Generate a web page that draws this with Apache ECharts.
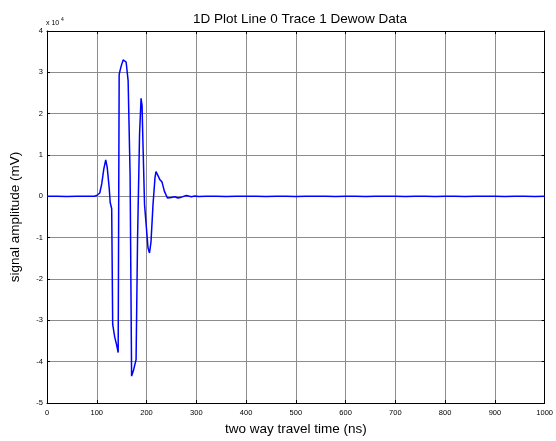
<!DOCTYPE html>
<html><head><meta charset="utf-8">
<script src="https://cdn.jsdelivr.net/npm/echarts@6/dist/echarts.min.js"></script>
<style>html,body{margin:0;padding:0;background:#fff}#c{width:556px;height:441px}</style>
</head><body><div id="c"></div>
<script>
var titleText = '1D Plot Line 0 Trace 1 Dewow Data';
var xName = 'two way travel time (ns)';
var yName = 'signal amplitude (mV)';
var xTicks = [0,100,200,300,400,500,600,700,800,900,1000];
var yTicks = [-5,-4,-3,-2,-1,0,1,2,3,4];
// travel time (ns)
var times = [0,20,40,60,80,95,100,106,110,114,118,121,125,127,130,132,136,140,143,145,149,153,156,159,163,167,170,174,179,182,186,189,191,193,196,200,203,206,209,213,217,219,223,227,231,236,242,250,257,263,270,280,290,297,305,320,340,360,380,400,420,440,460,480,500,520,540,560,580,600,620,640,660,680,700,720,740,760,780,800,820,840,860,880,900,920,940,960,980,1000];
// amplitude (x 10^4 mV)
var amps = [0.00,0.005,-0.005,0.00,0.005,0.00,0.02,0.08,0.30,0.65,0.88,0.70,0.20,-0.15,-0.30,-3.10,-3.40,-3.60,-3.78,2.95,3.15,3.30,3.33,3.25,2.80,0.50,-4.35,-4.20,-3.95,-1.00,1.50,2.37,2.20,1.20,-0.20,-0.80,-1.25,-1.37,-1.10,-0.20,0.45,0.60,0.50,0.40,0.35,0.12,-0.04,-0.03,-0.01,-0.04,-0.02,0.02,-0.01,0.01,-0.005,0.005,0.00,-0.005,0.005,0.00,0.005,-0.005,0.00,0.005,-0.005,0.00,0.005,0.00,-0.005,0.005,0.00,-0.005,0.00,0.005,0.00,-0.005,0.005,0.00,-0.005,0.00,0.005,-0.005,0.00,0.005,0.00,-0.005,0.005,0.00,-0.005,0.00];

var font = 'Liberation Sans, Arial, sans-serif';
var chart = echarts.init(document.getElementById('c'), null, {renderer:'canvas'});
var data = times.map(function(t,i){return [t, amps[i]];});
var gridL=45, gridR=11, gridT=31, gridB=32;
chart.setOption({
  animation:false,
  backgroundColor:'#fff',
  title:{text:titleText,left:295,textAlign:'center',top:7,textStyle:{fontFamily:font,fontSize:13.5,fontWeight:'normal',color:'#000'}},
  grid:{left:gridL,right:gridR,top:gridT,bottom:gridB,show:false},
  graphic:[
    {type:'text',x:46,y:20,style:{text:'x 10',font:'7px '+font,fill:'#000'}},
    {type:'text',x:61,y:17,style:{text:'4',font:'5px '+font,fill:'#000'}}
  ],
  xAxis:[
    {type:'value',min:0,max:1000,interval:100,position:'bottom',
     name:xName,nameLocation:'middle',nameGap:19,nameTextStyle:{fontFamily:font,fontSize:13.5,color:'#000'},
     axisLine:{show:true,onZero:false,lineStyle:{color:'#000',width:1}},
     axisTick:{show:true,inside:true,length:3,lineStyle:{color:'#000'}},
     axisLabel:{fontFamily:font,fontSize:7.5,color:'#000',margin:6,formatter:function(v){return xTicks.indexOf(v)>=0?String(v):'';}},
     splitLine:{show:true,lineStyle:{color:'#8c8c8c',width:1}}},
    {type:'value',min:0,max:1000,interval:100,position:'top',
     axisLine:{show:true,onZero:false,lineStyle:{color:'#000',width:1}},
     axisTick:{show:true,inside:true,length:3,lineStyle:{color:'#000'}},
     axisLabel:{show:false},splitLine:{show:false}}
  ],
  yAxis:[
    {type:'value',min:-5,max:4,interval:1,position:'left',
     name:yName,nameLocation:'middle',nameGap:25,nameTextStyle:{fontFamily:font,fontSize:13.5,color:'#000'},
     axisLine:{show:true,onZero:false,lineStyle:{color:'#000',width:1}},
     axisTick:{show:true,inside:true,length:3,lineStyle:{color:'#000'}},
     axisLabel:{fontFamily:font,fontSize:7.5,color:'#000',margin:4,formatter:function(v){return yTicks.indexOf(v)>=0?String(v):'';}},
     splitLine:{show:true,lineStyle:{color:'#8c8c8c',width:1}}},
    {type:'value',min:-5,max:4,interval:1,position:'right',
     axisLine:{show:true,onZero:false,lineStyle:{color:'#000',width:1}},
     axisTick:{show:true,inside:true,length:3,lineStyle:{color:'#000'}},
     axisLabel:{show:false},splitLine:{show:false}}
  ],
  series:[{type:'line',data:data,showSymbol:false,symbol:'none',
    lineStyle:{color:'#0000ff',width:1.5},itemStyle:{color:'#0000ff'}}]
});
</script>
</body></html>
